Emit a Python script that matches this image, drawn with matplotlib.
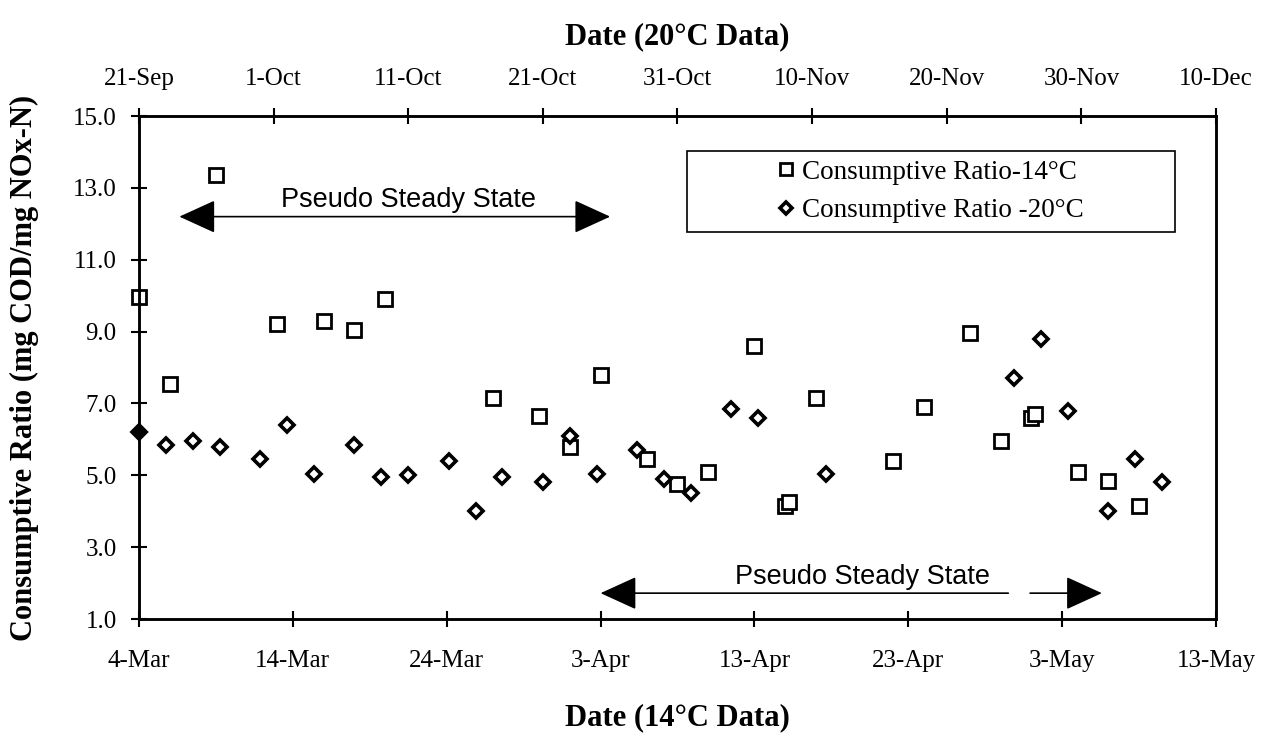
import matplotlib
matplotlib.use("Agg")
import matplotlib.pyplot as plt
import matplotlib.dates as mdates
from matplotlib.patches import Rectangle
from matplotlib.ticker import FuncFormatter
import pandas as pd

plt.rcParams['font.family'] = ['Liberation Serif', 'DejaVu Serif']

# 14 C reactor run (bottom date axis)
dates_14 = ["1998-03-04", "1998-03-06", "1998-03-09", "1998-03-13", "1998-03-16",
            "1998-03-18", "1998-03-20", "1998-03-27", "1998-03-30", "1998-04-01",
            "1998-04-03", "1998-04-06", "1998-04-08", "1998-04-10", "1998-04-13",
            "1998-04-15 00:00", "1998-04-15 06:00", "1998-04-17", "1998-04-22",
            "1998-04-24", "1998-04-27", "1998-04-29", "1998-05-01 00:00",
            "1998-05-01 06:00", "1998-05-04", "1998-05-06", "1998-05-08"]
ratio_14 = [9.95, 7.55, 13.35, 9.2, 9.3,
            9.05, 9.9, 7.15, 6.65, 5.8,
            7.8, 5.45, 4.75, 5.1, 8.6,
            4.15, 4.25, 7.15, 5.4,
            6.9, 8.95, 5.95, 6.6,
            6.7, 5.1, 4.85, 4.15]

# 20 C reactor run (top date axis)
dates_20 = ["1997-09-21", "1997-09-23", "1997-09-25", "1997-09-27", "1997-09-30",
            "1997-10-02", "1997-10-04", "1997-10-07", "1997-10-09", "1997-10-11",
            "1997-10-14", "1997-10-16", "1997-10-18", "1997-10-21", "1997-10-23",
            "1997-10-25", "1997-10-28", "1997-10-30", "1997-11-01", "1997-11-04",
            "1997-11-06", "1997-11-11", "1997-11-25", "1997-11-27", "1997-11-29",
            "1997-12-02", "1997-12-04", "1997-12-06"]
ratio_20 = [6.2, 5.85, 5.95, 5.8, 5.45,
            6.4, 5.05, 5.85, 4.95, 5.0,
            5.4, 4.0, 4.95, 4.8, 6.1,
            5.05, 5.7, 4.9, 4.5, 6.85,
            6.6, 5.05, 7.7, 8.8, 6.8,
            4.0, 5.45, 4.8]

bottom_range = ("1998-03-04", "1998-05-13")
top_range = ("1997-09-21", "1997-12-10")
y_ticks = [1, 3, 5, 7, 9, 11, 13, 15]

# pseudo steady state periods
pss_20 = ("1997-09-24", "1997-10-26", 12.2)
pss_14 = ("1998-04-03", "1998-05-05 14:00", 1.72)
pss_14_gap = ("1998-04-29 12:00", "1998-04-30 22:00")

x14 = pd.to_datetime(dates_14, format='ISO8601')
x20 = pd.to_datetime(dates_20, format='ISO8601')


def day_month(v, pos=None):
    d = mdates.num2date(v)
    return f"{d.day}-{d.strftime('%b')}"


def d(s):
    return mdates.date2num(pd.to_datetime(s))


fig = plt.figure(figsize=(12.68, 7.33), dpi=100)
ax = fig.add_axes([0.1096, 0.1555, 0.8494, 0.6862])
top = ax.twiny()

sq, = ax.plot(x14, ratio_14, ls='none', marker='s', ms=9.5, mew=2,
              mfc='white', mec='black', clip_on=False,
              label='Consumptive Ratio-14°C')
dm, = top.plot(x20, ratio_20, ls='none', marker='D', ms=7.5, mew=2.6,
               mfc='white', mec='black', label='Consumptive Ratio -20°C')
# first 20 C point sits on the axis and prints solid
top.plot(x20[:1], ratio_20[:1], ls='none', marker='D', ms=7.5, mew=2.6,
         mfc='black', mec='black', clip_on=False, zorder=5)

ax.set_xlim(pd.to_datetime(bottom_range[0]), pd.to_datetime(bottom_range[1]))
top.set_xlim(pd.to_datetime(top_range[0]), pd.to_datetime(top_range[1]))
ax.set_ylim(1, 15)

ax.set_xticks(pd.date_range(*bottom_range, freq='10D'))
top.set_xticks(pd.date_range(*top_range, freq='10D'))
ax.xaxis.set_major_formatter(FuncFormatter(day_month))
top.xaxis.set_major_formatter(FuncFormatter(day_month))
ax.set_yticks(y_ticks)
ax.yaxis.set_major_formatter(FuncFormatter(lambda v, p: f"{v:.1f}"))

ax.tick_params(axis='y', direction='inout', length=12, width=1.5,
               labelsize=18, pad=10, right=False)
ax.tick_params(axis='x', direction='inout', length=12, width=1.5,
               labelsize=18, pad=16)
top.tick_params(axis='x', direction='inout', length=12, width=1.5,
                labelsize=18, pad=13)
for a in (ax, top):
    for s in a.spines.values():
        s.set_linewidth(1.8)

ax.set_xlabel('Date (14°C Data)', fontsize=22, fontweight='bold')
ax.xaxis.set_label_coords(0.5, -0.167)
top.set_xlabel('Date (20°C Data)', fontsize=22, fontweight='bold')
top.xaxis.set_label_coords(0.5, 1.143)
ax.set_ylabel('Consumptive Ratio (mg COD/mg NOx-N)', fontsize=22, fontweight='bold')
ax.yaxis.set_label_coords(-0.093, 0.5)

# arrows
head = dict(color='black', lw=1.2, shrinkA=0, shrinkB=0, mutation_scale=10)
style = 'head_length=2.3,head_width=1.05'
top.annotate('', xy=(d(pss_20[0]), pss_20[2]), xytext=(d(pss_20[1]), pss_20[2]),
             arrowprops=dict(arrowstyle='<|-|>,' + style, **head))
top.text(d("1997-10-11"), pss_20[2] + 0.45, 'Pseudo Steady State', ha='center',
         va='center', fontsize=19.5, family='Liberation Sans')
ax.annotate('', xy=(d(pss_14[0]), pss_14[2]), xytext=(d(pss_14_gap[0]), pss_14[2]),
            arrowprops=dict(arrowstyle='-|>,' + style, **head))
ax.annotate('', xy=(d(pss_14[1]), pss_14[2]), xytext=(d(pss_14_gap[1]), pss_14[2]),
            arrowprops=dict(arrowstyle='-|>,' + style, **head))
ax.text(d("1998-04-20"), pss_14[2] + 0.45, 'Pseudo Steady State', ha='center',
        va='center', fontsize=19.5, family='Liberation Sans')

# legend with a wide box
top.add_patch(Rectangle((0.5088, 0.7694), 0.4532, 0.161, transform=top.transAxes,
                        fill=False, lw=1.2, ec='black', zorder=6))
top.legend(handles=[sq, dm], loc='center', bbox_to_anchor=(0.7354, 0.8499),
           bbox_transform=top.transAxes, frameon=False, fontsize=19.5,
           handlelength=0.6, handletextpad=0.3, labelspacing=0.5, markerscale=0.85)

fig.savefig('out.png', dpi=100)
